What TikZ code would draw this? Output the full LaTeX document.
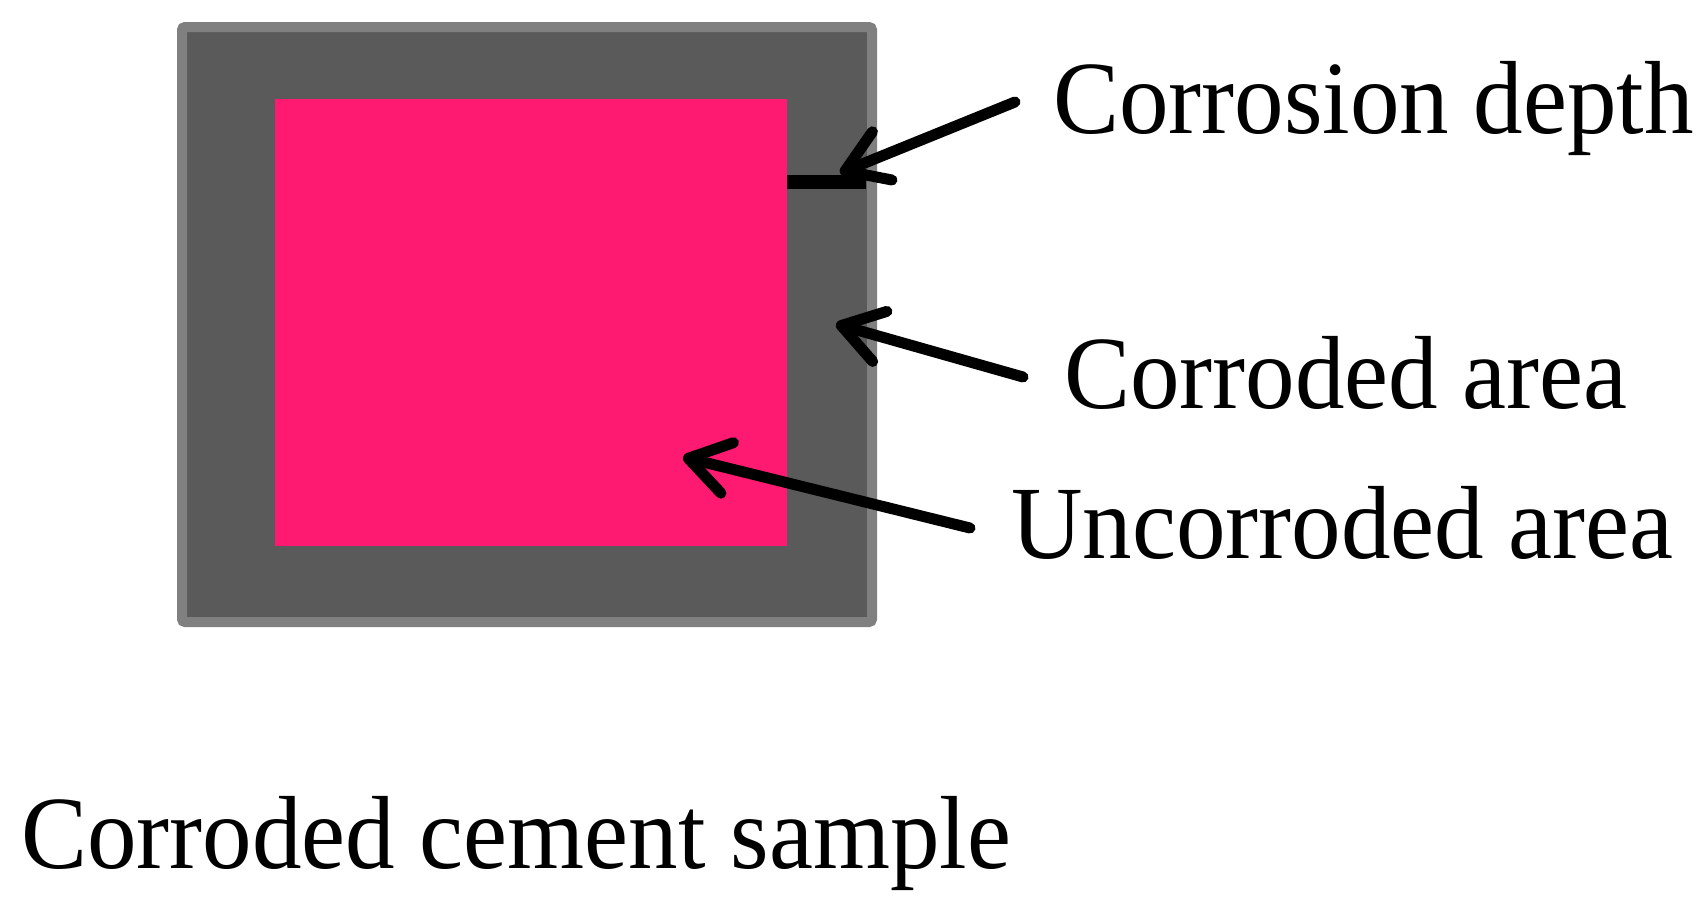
\documentclass[tikz,border=0pt]{standalone}
\usepackage{fontspec}
\setmainfont{Liberation Serif}
\usetikzlibrary{arrows.meta}
\definecolor{corrgray}{HTML}{5A5A5A}
\definecolor{edgegray}{HTML}{808080}
\definecolor{corepink}{HTML}{FF1A71}
\tikzset{
  label/.style={anchor=base west, inner sep=0pt, font=\fontsize{99}{110}\selectfont, yscale=1.05},
  pointer/.style={line width=11pt, line cap=round, -{Straight Barb[length=40pt, width=52pt, round]}},
}
\begin{document}
\begin{tikzpicture}[x=1pt,y=-1pt]
\useasboundingbox (0,0) rectangle (1706,910);
% sample
\draw[edgegray, fill=corrgray, line width=10pt, rounded corners=3pt] (182,27) rectangle (872,622);
\fill[corepink] (275,99) rectangle (787,546);
% depth bar
\coordinate (barL) at (787,182);
\coordinate (barR) at (866,182);
\draw[line width=14pt] (barL) -- (barR);
% labels
\node[label] (depth) at (1053,133) {Corrosion depth};
\node[label] (corr) at (1064,408) {Corroded area};
\node[label] (uncorr) at (1011,558) {Uncorroded area};
\node[label] (sample) at (21,868) {Corroded cement sample};
% arrows
\coordinate (t1) at (1015,102);
\coordinate (h1) at (840,173);
\coordinate (t2) at (1023,377);
\coordinate (h2) at (836,324);
\coordinate (t3) at (970,528);
\coordinate (h3) at (683,457);
\draw[pointer] (t1) -- (h1);
\draw[pointer] (t2) -- (h2);
\draw[pointer] (t3) -- (h3);
\end{tikzpicture}
\end{document}
